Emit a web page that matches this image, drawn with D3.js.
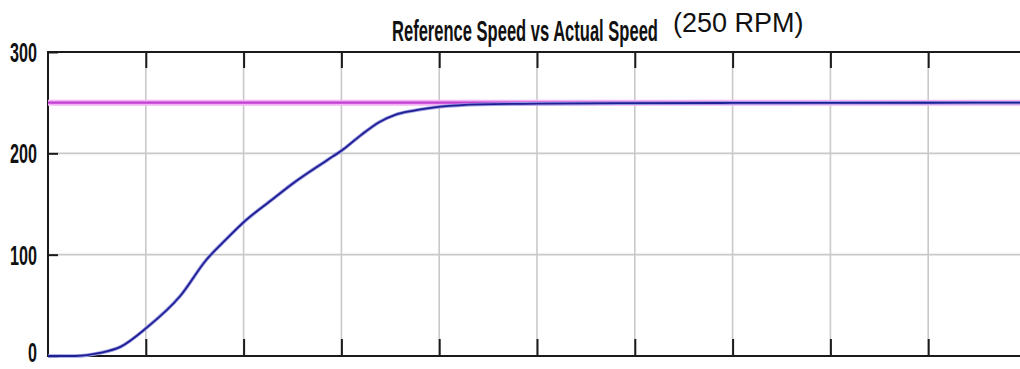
<!DOCTYPE html>
<html lang="en">
<head>
  <meta charset="UTF-8">
  <title>Reference Speed vs Actual Speed</title>
  <script src="https://d3js.org/d3.v7.min.js"></script>
  <style>
    body {
      margin: 0;
      background: #fff;
      font-family: "Liberation Sans", Arial, sans-serif;
    }
    .grid line {
      stroke: #c9c9c9;
      stroke-width: 1.6;
    }
    .frame {
      fill: none;
      stroke: #1a1a1a;
      stroke-width: 2;
    }
    .tick-mark line {
      stroke: #1a1a1a;
      stroke-width: 2;
    }
    .tick-mark path {
      display: none;
    }
  </style>
</head>
<body>
  <div id="chart"></div>
  <script>
    // data
    const timeTicks = [1, 2, 3, 4, 5, 6, 7, 8, 9];
    const speedTicks = [0, 100, 200, 300];
    const refTime = [0, 10];
    const refSpeed = [250, 250];
    const actualTime = [0, 0.28, 0.53, 0.74, 1.01, 1.35, 1.62, 1.83, 2.0, 2.3, 2.5, 2.85, 3.02, 3.2, 3.39, 3.55, 3.73, 4.01, 4.42, 5.01, 6, 7, 8, 9, 10];
    const actualSpeed = [0, 0, 3, 9, 28, 59, 95, 116, 132, 155, 170, 193, 204, 218, 231, 238, 242, 246, 248.3, 249, 249.5, 249.7, 249.8, 249.9, 250];

    const W = 1020, H = 369;
    const plotLeft = 48, plotTop = 52, plotBottom = 356, plotRight = 1026;

    const svg = d3.select("#chart").append("svg")
      .attr("width", W)
      .attr("height", H);

    const x = d3.scaleLinear().domain([0, 10]).range([plotLeft, plotRight]);
    const y = d3.scaleLinear().domain([0, 300]).range([plotBottom, plotTop]);

    // squeeze a text horizontally so it spans the given width
    function squeeze(sel, width, x0, y0, anchor) {
      const w = sel.node().getComputedTextLength();
      const sx = width / w;
      const dx = anchor === "end" ? -width : 0;
      sel.attr("x", 0).attr("y", 0)
        .attr("transform", "translate(" + (x0 + dx) + "," + y0 + ") scale(" + sx + ",1)");
    }

    // grid
    const grid = svg.append("g").attr("class", "grid");
    grid.selectAll(".gx").data(timeTicks).enter().append("line")
      .attr("x1", d => x(d)).attr("x2", d => x(d))
      .attr("y1", plotTop).attr("y2", plotBottom);
    grid.selectAll(".gy").data([100, 200]).enter().append("line")
      .attr("x1", plotLeft).attr("x2", W)
      .attr("y1", d => y(d)).attr("y2", d => y(d));

    // tick marks on the frame
    svg.append("g").attr("class", "tick-mark")
      .attr("transform", "translate(0," + plotTop + ")")
      .call(d3.axisTop(x).tickValues(timeTicks).tickSize(-16).tickFormat(""));
    svg.append("g").attr("class", "tick-mark")
      .attr("transform", "translate(0," + plotBottom + ")")
      .call(d3.axisBottom(x).tickValues(timeTicks).tickSize(-17).tickFormat(""));

    svg.append("g").attr("class", "tick-mark")
      .attr("transform", "translate(" + plotLeft + ",0)")
      .call(d3.axisLeft(y).tickValues(speedTicks).tickSize(-10).tickFormat(""));

    // y labels, tall and narrow like the reference
    const yLabels = svg.append("g")
      .attr("font-size", 27)
      .attr("font-weight", "bold")
      .attr("fill", "#111");
    speedTicks.forEach(v => {
      const t = yLabels.append("text").text(v);
      squeeze(t, String(v).length * 9, 37, Math.min(y(v) + 10, 362), "end");
    });

    // frame (right side runs off the picture)
    svg.append("path")
      .attr("class", "frame")
      .attr("d", "M" + W + "," + plotTop + "H" + plotLeft + "V" + plotBottom + "H" + W);

    const line = d3.line()
      .x(d => x(d[0]))
      .y(d => y(d[1]));

    const refPts = d3.zip(refTime, refSpeed);
    svg.append("path").datum(refPts)
      .attr("fill", "none").attr("stroke", "#f2b4f2").attr("stroke-width", 6)
      .attr("d", line);
    svg.append("path").datum(refPts)
      .attr("fill", "none").attr("stroke", "#c13fd3").attr("stroke-width", 2.2)
      .attr("d", line);

    const actPts = d3.zip(actualTime, actualSpeed);
    const smooth = d3.line().x(d => x(d[0])).y(d => y(d[1])).curve(d3.curveMonotoneX);
    svg.append("path").datum(actPts)
      .attr("fill", "none").attr("stroke", "#9a9ae0").attr("stroke-width", 3.5)
      .attr("d", smooth);
    svg.append("path").datum(actPts)
      .attr("fill", "none").attr("stroke", "#1f1f96").attr("stroke-width", 1.8)
      .attr("d", smooth);

    // titles
    const title = svg.append("text")
      .attr("font-size", 30)
      .attr("font-weight", "bold")
      .attr("fill", "#111")
      .text("Reference Speed vs Actual Speed");
    squeeze(title, 266, 392, 41, "start");

    svg.append("text")
      .attr("x", 673).attr("y", 32)
      .attr("font-size", 27)
      .attr("fill", "#111")
      .text("(250 RPM)");
  </script>
</body>
</html>
